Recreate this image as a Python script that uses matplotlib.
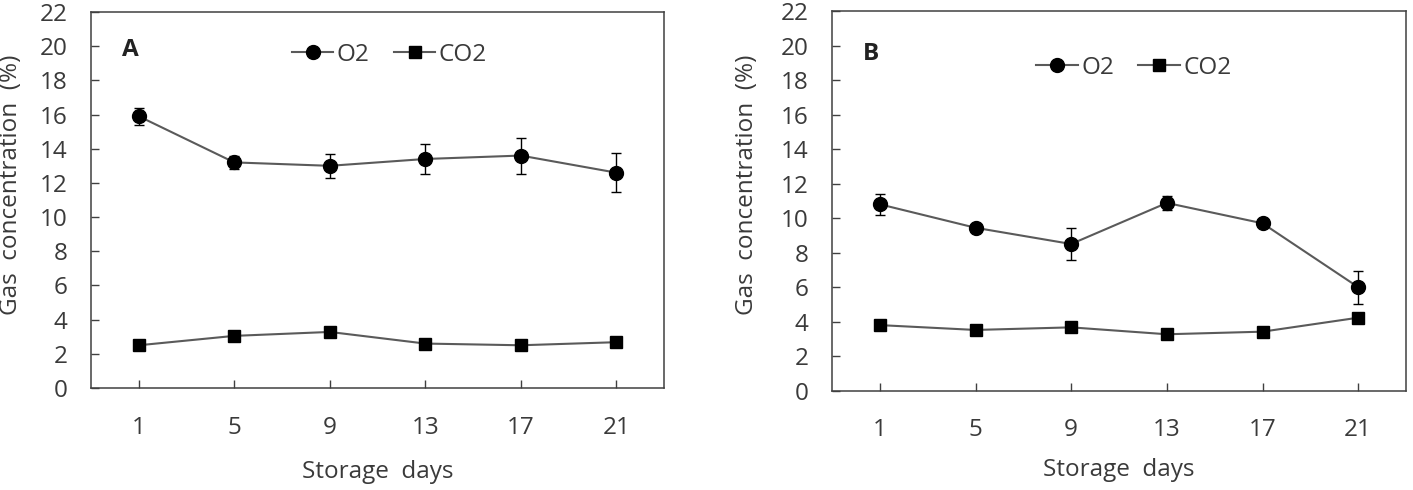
import matplotlib
matplotlib.use("Agg")
import matplotlib.pyplot as plt
import numpy as np

# ---- data ----
days = ["1", "5", "9", "13", "17", "21"]
a_o2 = [15.9, 13.2, 13.0, 13.4, 13.6, 12.6]
a_o2_err = [0.5, 0.4, 0.7, 0.85, 1.05, 1.15]
a_co2 = [2.5, 3.05, 3.28, 2.6, 2.5, 2.68]
a_co2_err = [0.1, 0.1, 0.1, 0.1, 0.1, 0.1]
b_o2 = [10.8, 9.44, 8.5, 10.88, 9.7, 6.0]
b_o2_err = [0.6, 0.2, 0.9, 0.4, 0.1, 0.95]
b_co2 = [3.8, 3.52, 3.67, 3.27, 3.42, 4.23]
b_co2_err = [0.1, 0.1, 0.1, 0.1, 0.1, 0.25]
yticks = list(range(0, 23, 2))

plt.rcParams['font.family'] = ['Open Sans', 'DejaVu Sans']
TXT = '#3a3a3a'
FS = 17.5

W, H = 1413, 490
fig = plt.figure(figsize=(W / 100, H / 100), dpi=100)

def px_axes(l, t, r, b):
    return fig.add_axes([l / W, 1 - b / H, (r - l) / W, (b - t) / H])

panels = [
    (px_axes(91, 12, 664, 388), "A", a_o2, a_o2_err, a_co2, a_co2_err,
     (0.054, 0.90), (0.521, 0.886), -0.139, 0.541, -0.223),
    (px_axes(832, 11, 1406, 390.7), "B", b_o2, b_o2_err, b_co2, b_co2_err,
     (0.054, 0.886), (0.526, 0.85), -0.148, 0.543, -0.21),
]

x = np.arange(len(days))
for ax, lab, o2, o2e, co2, co2e, labpos, legpos, ylx, yly, xly in panels:
    ax.errorbar(x, o2, yerr=o2e, fmt='none', ecolor='black', elinewidth=1.0, capsize=3.6, capthick=1.0, zorder=2)
    ax.errorbar(x, co2, yerr=co2e, fmt='none', ecolor='black', elinewidth=1.0, capsize=3.6, capthick=1.0, zorder=2)
    l1, = ax.plot(x, o2, color='#5a5a5a', lw=1.5, marker='o', ms=10, mfc='black', mec='black', zorder=3, label='O2')
    l2, = ax.plot(x, co2, color='#5a5a5a', lw=1.5, marker='s', ms=9, mfc='black', mec='black', zorder=3, label='CO2')
    ax.set_xlim(-0.5, len(days) - 0.5)
    ax.set_ylim(0, 22)
    ax.set_yticks(yticks)
    ax.set_xticks(x)
    ax.set_xticklabels(days)
    ax.tick_params(direction='in', length=6, width=1.0, color='#404040', labelsize=FS, labelcolor=TXT)
    ax.tick_params(axis='y', pad=17)
    ax.tick_params(axis='x', pad=20)
    for s in ax.spines.values():
        s.set_color('#404040')
        s.set_linewidth(1.1)
    ax.set_xlabel('Storage  days', fontsize=FS, color=TXT, va='center')
    ax.xaxis.set_label_coords(0.5, xly)
    ax.set_ylabel('Gas  concentration  (%)', fontsize=FS, color=TXT, va='center')
    ax.yaxis.set_label_coords(ylx, yly)
    ax.text(labpos[0], labpos[1], lab, transform=ax.transAxes, fontsize=FS, fontweight='bold',
            color='#222222', ha='left', va='center')
    ax.legend(handles=[l1, l2], loc='center', bbox_to_anchor=legpos, ncol=2, frameon=False,
              fontsize=FS, handlelength=1.7, handletextpad=0.15, columnspacing=1.0,
              labelcolor=TXT, borderpad=0, borderaxespad=0)

fig.savefig('out.png', dpi=100)
